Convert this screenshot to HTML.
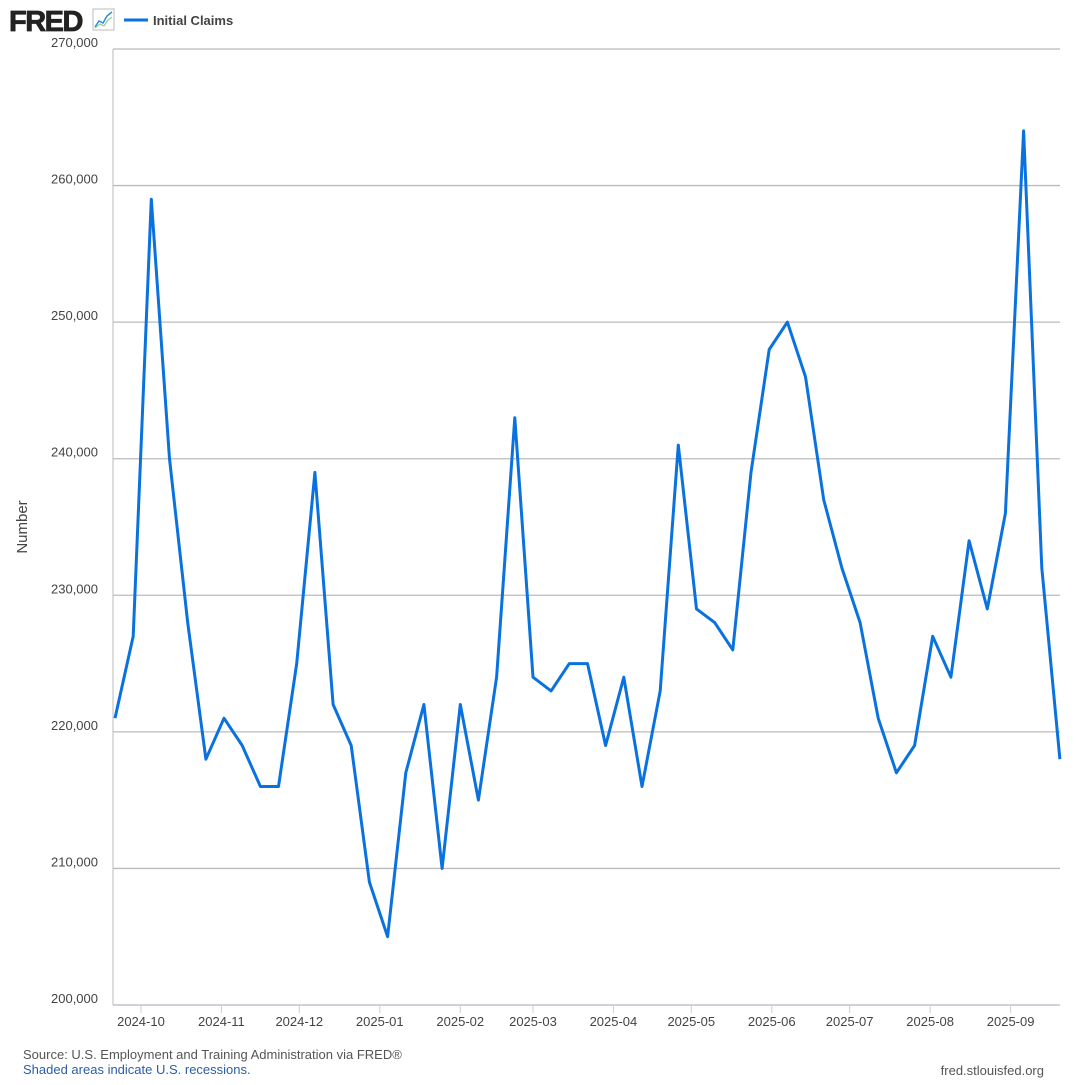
<!DOCTYPE html>
<html><head><meta charset="utf-8"><style>
body{margin:0;background:#fff;font-family:"Liberation Sans",Arial,sans-serif;}
svg text{font-family:"Liberation Sans",Arial,sans-serif;}
</style></head><body>
<svg id="chart" width="1080" height="1080" xmlns="http://www.w3.org/2000/svg">
<rect width="1080" height="1080" fill="#fff"/>
<g>
<text x="9" y="31" font-size="29" font-weight="bold" fill="#222" letter-spacing="-1.5" stroke="#222" stroke-width="0.8">FRED</text>
<rect x="93" y="9" width="21" height="21" fill="#fff" stroke="#bbb" stroke-width="1"/>
<polyline points="95,27 99,21 103,23 107,16 112,12" fill="none" stroke="#2f8fd8" stroke-width="1.5"/>
<polyline points="95,28 100,24 104,26 108,20 112,17" fill="none" stroke="#8ccf9a" stroke-width="1.2"/>
</g>
<g>
<line x1="124" y1="20" x2="148" y2="20" stroke="#0a72de" stroke-width="3"/>
<text x="153" y="25" font-size="13" font-weight="bold" fill="#444">Initial Claims</text>
</g>
<g id="grid"></g>
<g id="yticks"></g>
<g id="xticks"></g>
<text transform="translate(27,527) rotate(-90)" text-anchor="middle" font-size="15" fill="#444">Number</text>
<path id="line" fill="none" stroke="#0a72de" stroke-width="3" stroke-linejoin="round"/>
<text x="23" y="1059" font-size="13" fill="#555">Source: U.S. Employment and Training Administration via FRED®</text>
<text x="23" y="1074" font-size="13" fill="#2a5ea8">Shaded areas indicate U.S. recessions.</text>
<text x="1044" y="1075" text-anchor="end" font-size="13" fill="#555">fred.stlouisfed.org</text>
</svg>
<script>
const startDate = "2024-09-21";
const claims = [221000,227000,259000,240000,228000,218000,221000,219000,216000,216000,
225000,239000,222000,219000,209000,205000,217000,222000,210000,222000,
215000,224000,243000,224000,223000,225000,225000,219000,224000,216000,
223000,241000,229000,228000,226000,239000,248000,250000,246000,237000,
232000,228000,221000,217000,219000,227000,224000,234000,229000,236000,
264000,232000,218000];
const yTicks = [200000,210000,220000,230000,240000,250000,260000,270000];
const xTickLabels = ["2024-10","2024-11","2024-12","2025-01","2025-02","2025-03","2025-04","2025-05","2025-06","2025-07","2025-08","2025-09"];

const NS="http://www.w3.org/2000/svg";
const L=113,R=1060,T=49,B=1005;
const t0=Date.parse(startDate+"T00:00:00Z");
function xDate(ms){return 115+(ms-t0)/86400000*2.596;}
function y(v){return B-(v-200000)/70000*(B-T);}
function mk(tag,attrs,parent){const e=document.createElementNS(NS,tag);for(const k in attrs)e.setAttribute(k,attrs[k]);parent.appendChild(e);return e;}
const grid=document.getElementById('grid'),yt=document.getElementById('yticks'),xt=document.getElementById('xticks');
yTicks.forEach(v=>{
  if(v>200000){const g=mk('line',{x1:L,x2:R,y1:y(v),y2:y(v),stroke:'#bbb','stroke-width':1.3},grid);
  
  }
  const t=mk('text',{x:98,y:y(v)-2,'text-anchor':'end','font-size':13,fill:'#444'},yt);
  t.textContent=v.toLocaleString('en-US');
  
  
});
mk('line',{x1:L,x2:L,y1:T,y2:B,stroke:'#bbb','stroke-width':1},grid);
mk('line',{x1:L,x2:R,y1:B,y2:B,stroke:'#c0c0cc','stroke-width':1.5},grid);
xTickLabels.forEach(lbl=>{
  const x=xDate(Date.parse(lbl+"-01T00:00:00Z"));
  mk('line',{x1:x,x2:x,y1:B,y2:B+8,stroke:'#ccd'},xt);
  const t=mk('text',{x:x,y:B+21,'text-anchor':'middle','font-size':13,fill:'#444'},xt);
  t.textContent=lbl;
  
  
});
let d="";
claims.forEach((v,i)=>{const x=xDate(t0+i*7*86400000);d+=(i?"L":"M")+x.toFixed(1)+","+y(v).toFixed(1);});
document.getElementById('line').setAttribute('d',d);
</script>
</body></html>
